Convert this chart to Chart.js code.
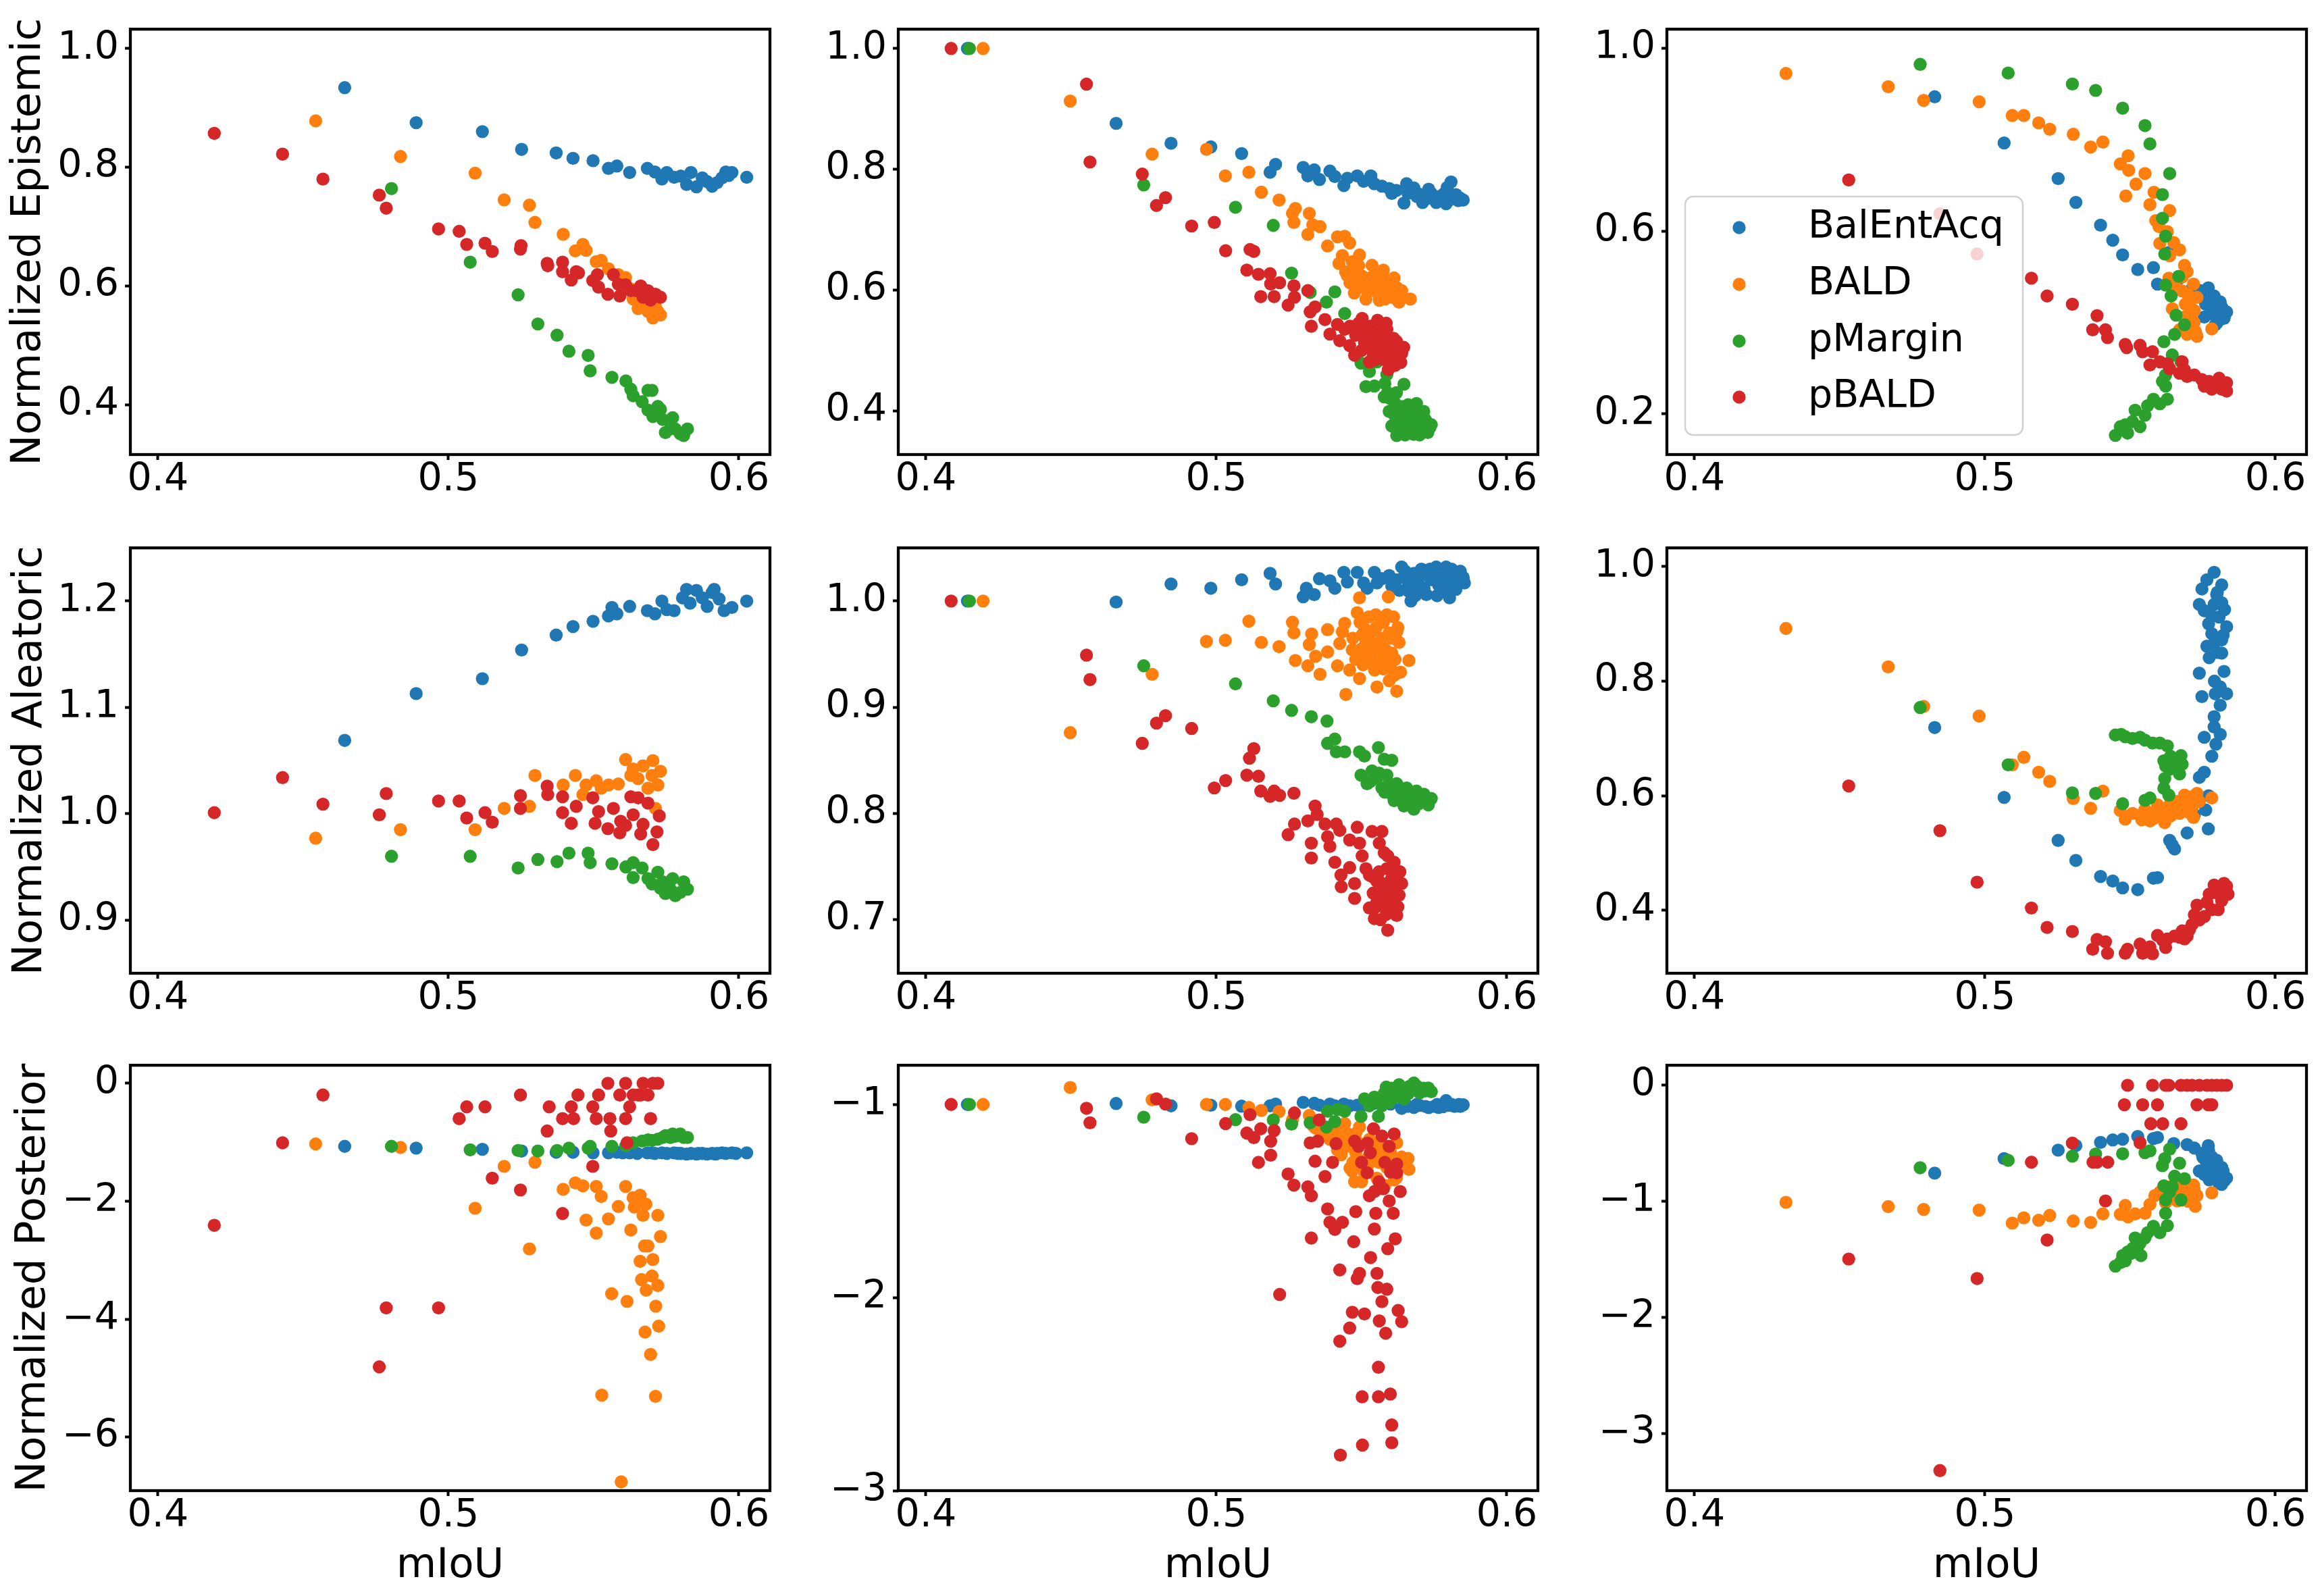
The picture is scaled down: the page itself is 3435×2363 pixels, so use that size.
<!DOCTYPE html>
<html>
<head>
<meta charset="utf-8">
<script src="https://cdn.jsdelivr.net/npm/chart.js@4.4.0/dist/chart.umd.min.js"></script>
<style>
html, body { margin: 0; padding: 0; background: #fff; }
#wrap { position: relative; width: 3435px; height: 2363px; background: #fff; overflow: hidden; }
#wrap canvas { position: absolute; }
</style>
</head>
<body>
<div id="wrap"></div>
<script>
// Methods and colours (matplotlib tab10)
const methodNames = ['BalEntAcq', 'BALD', 'pMargin', 'pBALD'];
const methodColors = ['#1f77b4', '#ff7f0e', '#2ca02c', '#d62728'];

// Shared x axis (mIoU)
const xTicks = [0.4, 0.5, 0.6];
const xTickLabels = ['0.4', '0.5', '0.6'];

// Row titles
const rowTitles = ['Normalized Epistemic', 'Normalized Aleatoric', 'Normalized Posterior'];

// Y ticks per panel
const yTicksEpi1 = [0.4, 0.6, 0.8, 1.0], yLabelsEpi1 = ['0.4', '0.6', '0.8', '1.0'];
const yTicksEpi2 = [0.4, 0.6, 0.8, 1.0], yLabelsEpi2 = ['0.4', '0.6', '0.8', '1.0'];
const yTicksEpi3 = [0.2, 0.6, 1.0], yLabelsEpi3 = ['0.2', '0.6', '1.0'];
const yTicksAle1 = [0.9, 1.0, 1.1, 1.2], yLabelsAle1 = ['0.9', '1.0', '1.1', '1.2'];
const yTicksAle2 = [0.7, 0.8, 0.9, 1.0], yLabelsAle2 = ['0.7', '0.8', '0.9', '1.0'];
const yTicksAle3 = [0.4, 0.6, 0.8, 1.0], yLabelsAle3 = ['0.4', '0.6', '0.8', '1.0'];
const yTicksPost1 = [-6, -4, -2, 0], yLabelsPost1 = ['\u22126', '\u22124', '\u22122', '0'];
const yTicksPost2 = [-3, -2, -1], yLabelsPost2 = ['\u22123', '\u22122', '\u22121'];
const yTicksPost3 = [-3, -2, -1, 0], yLabelsPost3 = ['\u22123', '\u22122', '\u22121', '0'];

// ---- Epistemic, column 1 ----
const epi1Bal = [[0.4643,0.934],[0.4889,0.875],[0.5117,0.860],[0.5252,0.830],[0.5371,0.824],[0.5429,0.815],[0.5498,0.811],[0.5551,0.798],[0.5580,0.802],[0.5624,0.791],[0.5685,0.798],[0.5711,0.792],[0.5735,0.780],[0.5752,0.791],[0.5777,0.783],[0.5800,0.785],[0.5820,0.771],[0.5835,0.791],[0.5854,0.767],[0.5874,0.782],[0.5890,0.776],[0.5908,0.768],[0.5925,0.774],[0.5942,0.782],[0.5955,0.792],[0.5976,0.791],[0.5965,0.786],[0.6027,0.783]];
const epi1Bald = [[0.4543,0.878],[0.4835,0.818],[0.5092,0.790],[0.5192,0.745],[0.5279,0.736],[0.5298,0.707],[0.5395,0.687],[0.5437,0.659],[0.5463,0.670],[0.5474,0.660],[0.5509,0.641],[0.5526,0.643],[0.5551,0.629],[0.5585,0.619],[0.5610,0.614],[0.5628,0.595],[0.5636,0.578],[0.5653,0.562],[0.5670,0.567],[0.5687,0.557],[0.5704,0.546],[0.5721,0.557],[0.5730,0.551],[0.5701,0.581],[0.5713,0.565]];
const epi1Pm = [[0.4804,0.764],[0.5075,0.640],[0.5240,0.585],[0.5308,0.536],[0.5374,0.517],[0.5415,0.490],[0.5481,0.483],[0.5488,0.457],[0.5563,0.446],[0.5611,0.440],[0.5628,0.426],[0.5636,0.415],[0.5667,0.405],[0.5687,0.424],[0.5701,0.424],[0.5687,0.391],[0.5704,0.380],[0.5721,0.397],[0.5738,0.375],[0.5747,0.353],[0.5764,0.359],[0.5772,0.378],[0.5781,0.359],[0.5798,0.351],[0.5810,0.348],[0.5823,0.359],[0.5730,0.392]];
const epi1Pb = [[0.4194,0.857],[0.4429,0.822],[0.4568,0.780],[0.4762,0.753],[0.4786,0.731],[0.4966,0.696],[0.5037,0.692],[0.5063,0.670],[0.5126,0.672],[0.5151,0.658],[0.5248,0.662],[0.5250,0.668],[0.5340,0.638],[0.5342,0.634],[0.5393,0.640],[0.5393,0.624],[0.5423,0.610],[0.5440,0.624],[0.5448,0.622],[0.5497,0.609],[0.5517,0.598],[0.5513,0.619],[0.5549,0.586],[0.5568,0.619],[0.5585,0.603],[0.5590,0.583],[0.5610,0.602],[0.5628,0.592],[0.5645,0.592],[0.5662,0.600],[0.5670,0.581],[0.5696,0.576],[0.5713,0.586],[0.5730,0.581],[0.5687,0.592]];

// ---- Epistemic, column 2 ----
const epi2Bal = [[0.4143,1.0],[0.4655,0.876],[0.4844,0.843],[0.4981,0.837],[0.5087,0.826],[0.5185,0.795],[0.5204,0.808],[0.5299,0.803],[0.5315,0.789],[0.5337,0.799],[0.5355,0.783],[0.5391,0.797],[0.5408,0.788],[0.5439,0.773],[0.5451,0.785],[0.5485,0.789],[0.5507,0.780],[0.5532,0.789],[0.5544,0.776],[0.5570,0.772],[0.5595,0.768],[0.5604,0.760],[0.5646,0.744],[0.5655,0.776],[0.5680,0.769],[0.5697,0.759],[0.5723,0.751],[0.5731,0.767],[0.5757,0.745],[0.5774,0.756],[0.5791,0.743],[0.5799,0.748],[0.5808,0.779],[0.5816,0.753],[0.5833,0.748],[0.5850,0.749],[0.5660,0.760],[0.5690,0.755],[0.5710,0.745],[0.5740,0.760],[0.5765,0.752],[0.5785,0.760],[0.5795,0.770],[0.5825,0.758],[0.5840,0.752],[0.5620,0.765]];
const epi2Bald = [[0.4197,1.0],[0.4497,0.913],[0.4779,0.825],[0.4966,0.833],[0.5031,0.789],[0.5112,0.795],[0.5155,0.762],[0.5216,0.749],[0.5262,0.727],[0.5267,0.712],[0.5272,0.735],[0.5315,0.692],[0.5320,0.727],[0.5332,0.708],[0.5357,0.705],[0.5383,0.673],[0.5417,0.688],[0.5442,0.689],[0.5459,0.678],[0.5422,0.644],[0.5434,0.657],[0.5451,0.624],[0.5468,0.647],[0.5476,0.609],[0.5493,0.658],[0.5502,0.623],[0.5519,0.599],[0.5536,0.641],[0.5544,0.609],[0.5561,0.583],[0.5575,0.633],[0.5587,0.599],[0.5604,0.588],[0.5621,0.604],[0.5629,0.580],[0.5638,0.599],[0.5668,0.585],[0.5612,0.620],[0.5570,0.615],[0.5480,0.630],[0.5530,0.620],[0.5580,0.600],[0.5445,0.630],[0.5460,0.612],[0.5475,0.595],[0.5490,0.640],[0.5505,0.605],[0.5515,0.585],[0.5530,0.600],[0.5545,0.625],[0.5555,0.595],[0.5565,0.605],[0.5580,0.585],[0.5595,0.615],[0.5610,0.590],[0.5625,0.582],[0.5640,0.590]];
const epi2Pm = [[0.4150,1.0],[0.4750,0.774],[0.5066,0.737],[0.5196,0.707],[0.5259,0.628],[0.5323,0.596],[0.5379,0.580],[0.5408,0.597],[0.5442,0.561],[0.5498,0.479],[0.5515,0.440],[0.5527,0.465],[0.5544,0.441],[0.5553,0.481],[0.5578,0.423],[0.5587,0.460],[0.5595,0.399],[0.5604,0.375],[0.5612,0.415],[0.5621,0.359],[0.5629,0.385],[0.5638,0.407],[0.5646,0.444],[0.5655,0.375],[0.5663,0.396],[0.5680,0.361],[0.5689,0.412],[0.5697,0.380],[0.5714,0.399],[0.5728,0.364],[0.5740,0.377],[0.5706,0.369],[0.5672,0.385],[0.5620,0.430],[0.5650,0.395],[0.5580,0.445],[0.5590,0.430],[0.5600,0.420],[0.5610,0.395],[0.5615,0.380],[0.5630,0.370],[0.5640,0.390],[0.5650,0.360],[0.5660,0.380],[0.5670,0.370],[0.5690,0.395],[0.5700,0.360],[0.5720,0.385],[0.5735,0.372],[0.5660,0.410],[0.5625,0.405]];
const epi2Pb = [[0.4087,1.0],[0.4553,0.941],[0.4565,0.812],[0.4745,0.792],[0.4825,0.753],[0.4794,0.740],[0.4915,0.706],[0.4993,0.712],[0.5032,0.665],[0.5116,0.667],[0.5129,0.664],[0.5105,0.633],[0.5145,0.626],[0.5185,0.627],[0.5187,0.610],[0.5218,0.612],[0.5153,0.589],[0.5199,0.589],[0.5247,0.575],[0.5267,0.607],[0.5269,0.588],[0.5315,0.599],[0.5323,0.564],[0.5327,0.540],[0.5340,0.572],[0.5374,0.551],[0.5391,0.527],[0.5417,0.543],[0.5425,0.516],[0.5442,0.535],[0.5459,0.508],[0.5476,0.492],[0.5485,0.529],[0.5502,0.553],[0.5510,0.513],[0.5527,0.481],[0.5536,0.503],[0.5553,0.529],[0.5561,0.492],[0.5570,0.513],[0.5587,0.535],[0.5592,0.468],[0.5604,0.476],[0.5612,0.503],[0.5626,0.487],[0.5638,0.495],[0.5578,0.497],[0.5544,0.484],[0.5520,0.520],[0.5545,0.505],[0.5580,0.520],[0.5600,0.500],[0.5620,0.515],[0.5565,0.530],[0.5530,0.540],[0.5460,0.540],[0.5480,0.525],[0.5490,0.545],[0.5500,0.500],[0.5510,0.530],[0.5525,0.510],[0.5540,0.495],[0.5550,0.520],[0.5560,0.505],[0.5575,0.485],[0.5590,0.510],[0.5600,0.490],[0.5610,0.520],[0.5625,0.500],[0.5635,0.480],[0.5645,0.505],[0.5615,0.475],[0.5585,0.545],[0.5555,0.550],[0.5505,0.545]];

// ---- Epistemic, column 3 ----
const epi3Bal = [[0.4827,0.894],[0.5066,0.793],[0.5252,0.715],[0.5313,0.663],[0.5398,0.613],[0.5440,0.580],[0.5474,0.548],[0.5526,0.516],[0.5580,0.520],[0.5594,0.484],[0.5633,0.553],[0.5670,0.497],[0.5704,0.469],[0.5721,0.476],[0.5747,0.455],[0.5769,0.476],[0.5789,0.458],[0.5772,0.441],[0.5798,0.426],[0.5806,0.412],[0.5815,0.434],[0.5823,0.409],[0.5832,0.423],[0.5793,0.395],[0.5755,0.412],[0.5781,0.419],[0.5823,0.426],[0.5760,0.440],[0.5790,0.430],[0.5810,0.445],[0.5825,0.415],[0.5800,0.400],[0.5740,0.470]];
const epi3Bald = [[0.4315,0.945],[0.4667,0.916],[0.4789,0.886],[0.4980,0.883],[0.5094,0.853],[0.5134,0.853],[0.5185,0.837],[0.5223,0.823],[0.5304,0.812],[0.5364,0.784],[0.5406,0.795],[0.5466,0.747],[0.5493,0.765],[0.5495,0.733],[0.5551,0.726],[0.5520,0.703],[0.5485,0.677],[0.5568,0.658],[0.5582,0.685],[0.5636,0.645],[0.5588,0.623],[0.5599,0.610],[0.5628,0.599],[0.5602,0.573],[0.5650,0.575],[0.5670,0.559],[0.5636,0.546],[0.5687,0.525],[0.5696,0.511],[0.5653,0.483],[0.5679,0.469],[0.5718,0.484],[0.5730,0.455],[0.5704,0.441],[0.5721,0.426],[0.5687,0.412],[0.5645,0.430],[0.5713,0.391],[0.5730,0.370],[0.5781,0.386],[0.5670,0.384],[0.5696,0.374],[0.5633,0.497],[0.5700,0.460],[0.5710,0.420],[0.5720,0.400],[0.5690,0.440],[0.5680,0.500],[0.5725,0.380]];
const epi3Pm = [[0.4777,0.965],[0.5080,0.946],[0.5301,0.922],[0.5381,0.908],[0.5474,0.869],[0.5551,0.831],[0.5568,0.791],[0.5636,0.726],[0.5611,0.680],[0.5611,0.628],[0.5622,0.589],[0.5619,0.550],[0.5667,0.501],[0.5622,0.482],[0.5641,0.458],[0.5658,0.416],[0.5687,0.395],[0.5653,0.374],[0.5616,0.358],[0.5645,0.329],[0.5675,0.314],[0.5622,0.285],[0.5611,0.271],[0.5622,0.261],[0.5628,0.232],[0.5602,0.222],[0.5580,0.232],[0.5560,0.218],[0.5551,0.197],[0.5517,0.208],[0.5534,0.172],[0.5508,0.183],[0.5483,0.176],[0.5466,0.172],[0.5491,0.158],[0.5449,0.153],[0.5474,0.165]];
const epi3Pb = [[0.4531,0.712],[0.4845,0.638],[0.4973,0.550],[0.5160,0.497],[0.5214,0.458],[0.5301,0.440],[0.5386,0.415],[0.5371,0.384],[0.5415,0.384],[0.5422,0.367],[0.5483,0.352],[0.5488,0.345],[0.5534,0.350],[0.5543,0.336],[0.5577,0.336],[0.5568,0.307],[0.5602,0.314],[0.5628,0.310],[0.5636,0.299],[0.5670,0.289],[0.5687,0.296],[0.5696,0.282],[0.5721,0.285],[0.5747,0.275],[0.5755,0.261],[0.5772,0.271],[0.5789,0.264],[0.5806,0.278],[0.5815,0.254],[0.5832,0.268],[0.5832,0.250],[0.5781,0.254],[0.5679,0.314]];

// ---- Aleatoric, column 1 ----
const ale1Bal = [[0.4643,1.069],[0.4889,1.113],[0.5117,1.127],[0.5252,1.154],[0.5371,1.168],[0.5429,1.176],[0.5498,1.181],[0.5551,1.186],[0.5563,1.194],[0.5580,1.188],[0.5624,1.195],[0.5685,1.191],[0.5711,1.188],[0.5735,1.200],[0.5752,1.192],[0.5777,1.191],[0.5806,1.203],[0.5820,1.211],[0.5832,1.198],[0.5854,1.210],[0.5874,1.203],[0.5891,1.195],[0.5908,1.208],[0.5915,1.211],[0.5932,1.202],[0.5949,1.191],[0.5976,1.194],[0.6027,1.200]];
const ale1Bald = [[0.4543,0.977],[0.4835,0.985],[0.5092,0.985],[0.5192,1.005],[0.5279,1.007],[0.5298,1.036],[0.5395,1.027],[0.5437,1.036],[0.5463,1.018],[0.5474,1.027],[0.5509,1.031],[0.5526,1.024],[0.5551,1.027],[0.5585,1.028],[0.5610,1.051],[0.5628,1.036],[0.5636,1.042],[0.5653,1.033],[0.5670,1.045],[0.5687,1.024],[0.5704,1.050],[0.5721,1.027],[0.5730,1.040],[0.5701,1.036],[0.5713,1.005]];
const ale1Pm = [[0.4804,0.960],[0.5075,0.960],[0.5240,0.949],[0.5308,0.957],[0.5374,0.955],[0.5415,0.963],[0.5481,0.963],[0.5488,0.954],[0.5563,0.953],[0.5611,0.950],[0.5636,0.954],[0.5636,0.940],[0.5667,0.949],[0.5687,0.939],[0.5701,0.934],[0.5721,0.945],[0.5738,0.936],[0.5747,0.925],[0.5764,0.929],[0.5772,0.939],[0.5781,0.923],[0.5798,0.926],[0.5810,0.936],[0.5823,0.929],[0.5730,0.930]];
const ale1Pb = [[0.4194,1.001],[0.4429,1.034],[0.4568,1.009],[0.4762,0.999],[0.4786,1.019],[0.4966,1.012],[0.5037,1.012],[0.5063,0.996],[0.5126,1.001],[0.5151,0.992],[0.5248,1.017],[0.5248,1.005],[0.5340,1.026],[0.5342,1.018],[0.5393,1.016],[0.5393,1.001],[0.5423,0.991],[0.5440,1.007],[0.5497,1.015],[0.5505,0.991],[0.5517,1.002],[0.5549,0.986],[0.5568,1.005],[0.5590,0.982],[0.5593,0.993],[0.5610,0.989],[0.5628,1.016],[0.5636,0.999],[0.5653,1.015],[0.5662,0.981],[0.5670,0.990],[0.5687,1.010],[0.5704,0.971],[0.5718,0.983],[0.5726,0.998]];

// ---- Aleatoric, column 2 ----
const ale2Bal = [[0.4143,1.0],[0.4655,0.999],[0.4844,1.016],[0.4981,1.012],[0.5087,1.020],[0.5185,1.026],[0.5204,1.016],[0.5299,1.004],[0.5310,1.012],[0.5337,1.006],[0.5355,1.021],[0.5391,1.019],[0.5408,1.012],[0.5439,1.027],[0.5451,1.018],[0.5485,1.027],[0.5507,1.017],[0.5519,1.012],[0.5544,1.027],[0.5553,1.017],[0.5570,1.021],[0.5595,1.024],[0.5604,1.014],[0.5638,1.032],[0.5646,1.023],[0.5663,1.009],[0.5680,1.026],[0.5697,1.015],[0.5706,1.030],[0.5723,1.006],[0.5731,1.023],[0.5757,1.032],[0.5765,1.015],[0.5774,1.009],[0.5791,1.032],[0.5799,1.018],[0.5803,1.003],[0.5816,1.024],[0.5830,1.027],[0.5842,1.020],[0.5854,1.017],[0.5825,1.011],[0.5620,1.020],[0.5630,1.010],[0.5650,1.028],[0.5660,1.018],[0.5670,1.000],[0.5690,1.020],[0.5710,1.025],[0.5715,1.012],[0.5740,1.020],[0.5750,1.028],[0.5760,1.005],[0.5780,1.022],[0.5785,1.012],[0.5810,1.030],[0.5820,1.015],[0.5840,1.028],[0.5850,1.022],[0.5795,1.026],[0.5735,1.030],[0.5685,1.005]];
const ale2Bald = [[0.4197,1.0],[0.4497,0.876],[0.4779,0.931],[0.4966,0.962],[0.5031,0.963],[0.5112,0.981],[0.5155,0.961],[0.5216,0.957],[0.5262,0.980],[0.5267,0.970],[0.5272,0.944],[0.5315,0.939],[0.5320,0.959],[0.5328,0.969],[0.5342,0.948],[0.5357,0.931],[0.5383,0.973],[0.5383,0.952],[0.5417,0.939],[0.5425,0.960],[0.5434,0.971],[0.5442,0.979],[0.5446,0.912],[0.5459,0.935],[0.5468,0.954],[0.5485,0.989],[0.5493,0.927],[0.5493,1.003],[0.5502,0.968],[0.5510,0.948],[0.5527,0.962],[0.5536,0.942],[0.5549,0.987],[0.5553,0.919],[0.5561,0.957],[0.5575,0.936],[0.5587,0.987],[0.5592,1.004],[0.5595,0.970],[0.5604,0.951],[0.5612,0.930],[0.5621,0.915],[0.5629,0.961],[0.5634,0.933],[0.5663,0.944],[0.5621,0.971],[0.5510,0.974],[0.5500,0.955],[0.5520,0.945],[0.5540,0.960],[0.5560,0.950],[0.5580,0.955],[0.5600,0.940],[0.5530,0.970],[0.5570,0.965],[0.5470,0.965],[0.5480,0.945],[0.5495,0.980],[0.5505,0.940],[0.5515,0.960],[0.5525,0.985],[0.5535,0.955],[0.5545,0.935],[0.5550,0.975],[0.5565,0.945],[0.5575,0.980],[0.5585,0.950],[0.5595,0.925],[0.5605,0.965],[0.5615,0.945],[0.5625,0.975],[0.5610,0.985]];
const ale2Pm = [[0.4150,1.0],[0.4750,0.939],[0.5066,0.922],[0.5196,0.906],[0.5259,0.897],[0.5327,0.891],[0.5381,0.887],[0.5383,0.866],[0.5408,0.870],[0.5413,0.858],[0.5442,0.858],[0.5493,0.858],[0.5510,0.854],[0.5558,0.862],[0.5578,0.851],[0.5604,0.850],[0.5498,0.836],[0.5519,0.828],[0.5536,0.840],[0.5553,0.833],[0.5570,0.824],[0.5587,0.836],[0.5604,0.818],[0.5621,0.828],[0.5629,0.815],[0.5646,0.807],[0.5655,0.824],[0.5672,0.812],[0.5680,0.804],[0.5689,0.821],[0.5706,0.815],[0.5723,0.812],[0.5740,0.814],[0.5697,0.809],[0.5612,0.812],[0.5530,0.830],[0.5560,0.838],[0.5580,0.820],[0.5595,0.828],[0.5615,0.820],[0.5635,0.822],[0.5650,0.815],[0.5665,0.818],[0.5690,0.810],[0.5715,0.818],[0.5730,0.808]];
const ale2Pb = [[0.4087,1.0],[0.4553,0.949],[0.4565,0.926],[0.4745,0.866],[0.4794,0.885],[0.4825,0.892],[0.4915,0.880],[0.4993,0.824],[0.5032,0.831],[0.5105,0.836],[0.5114,0.852],[0.5129,0.861],[0.5145,0.835],[0.5153,0.821],[0.5185,0.816],[0.5199,0.821],[0.5218,0.817],[0.5247,0.780],[0.5267,0.819],[0.5269,0.790],[0.5327,0.772],[0.5327,0.758],[0.5340,0.807],[0.5347,0.799],[0.5315,0.793],[0.5374,0.790],[0.5383,0.778],[0.5391,0.769],[0.5408,0.754],[0.5413,0.790],[0.5425,0.784],[0.5429,0.742],[0.5430,0.731],[0.5459,0.775],[0.5459,0.749],[0.5476,0.734],[0.5476,0.720],[0.5485,0.787],[0.5493,0.772],[0.5502,0.760],[0.5515,0.748],[0.5527,0.711],[0.5536,0.783],[0.5544,0.701],[0.5553,0.736],[0.5561,0.772],[0.5570,0.783],[0.5570,0.726],[0.5578,0.763],[0.5587,0.748],[0.5590,0.690],[0.5595,0.714],[0.5604,0.739],[0.5612,0.754],[0.5621,0.704],[0.5629,0.723],[0.5638,0.734],[0.5553,0.717],[0.5527,0.742],[0.5560,0.745],[0.5580,0.730],[0.5600,0.720],[0.5540,0.725],[0.5620,0.745],[0.5590,0.760],[0.5540,0.740],[0.5550,0.712],[0.5565,0.735],[0.5575,0.715],[0.5585,0.705],[0.5595,0.735],[0.5605,0.710],[0.5615,0.730],[0.5625,0.712],[0.5632,0.745],[0.5585,0.725],[0.5565,0.700]];

// ---- Aleatoric, column 3 ----
const ale3Bal = [[0.4827,0.719],[0.5066,0.597],[0.5252,0.522],[0.5313,0.487],[0.5398,0.459],[0.5440,0.451],[0.5474,0.439],[0.5526,0.436],[0.5580,0.456],[0.5594,0.457],[0.5636,0.522],[0.5653,0.507],[0.5645,0.514],[0.5696,0.535],[0.5721,0.567],[0.5670,0.582],[0.5738,0.632],[0.5755,0.641],[0.5769,0.542],[0.5781,0.669],[0.5755,0.702],[0.5789,0.720],[0.5789,0.738],[0.5810,0.707],[0.5793,0.778],[0.5810,0.758],[0.5832,0.778],[0.5747,0.773],[0.5738,0.814],[0.5823,0.817],[0.5772,0.841],[0.5815,0.849],[0.5789,0.866],[0.5815,0.872],[0.5781,0.883],[0.5806,0.912],[0.5832,0.895],[0.5755,0.923],[0.5789,0.934],[0.5815,0.937],[0.5747,0.961],[0.5764,0.977],[0.5789,0.990],[0.5815,0.968],[0.5798,0.951],[0.5781,0.914],[0.5764,0.861],[0.5738,0.934],[0.5770,0.600],[0.5760,0.575],[0.5790,0.800],[0.5800,0.850],[0.5820,0.880],[0.5800,0.955],[0.5825,0.925],[0.5770,0.900],[0.5810,0.790],[0.5795,0.690]];
const ale3Bald = [[0.4315,0.892],[0.4667,0.825],[0.4789,0.756],[0.4980,0.739],[0.5094,0.654],[0.5134,0.667],[0.5185,0.641],[0.5223,0.625],[0.5304,0.595],[0.5364,0.578],[0.5406,0.608],[0.5466,0.574],[0.5483,0.559],[0.5508,0.569],[0.5534,0.566],[0.5568,0.556],[0.5585,0.572],[0.5611,0.562],[0.5628,0.573],[0.5636,0.584],[0.5662,0.590],[0.5670,0.569],[0.5687,0.582],[0.5696,0.598],[0.5713,0.579],[0.5721,0.593],[0.5730,0.604],[0.5718,0.562],[0.5738,0.590],[0.5781,0.596],[0.5653,0.573],[0.5594,0.584],[0.5551,0.576],[0.5619,0.553],[0.5687,0.601],[0.5600,0.565],[0.5640,0.565],[0.5660,0.575],[0.5680,0.590],[0.5700,0.585],[0.5720,0.600],[0.5705,0.570],[0.5580,0.560],[0.5540,0.558]];
const ale3Pm = [[0.4777,0.754],[0.5080,0.654],[0.5301,0.605],[0.5381,0.604],[0.5474,0.586],[0.5551,0.592],[0.5568,0.596],[0.5449,0.706],[0.5469,0.707],[0.5483,0.703],[0.5508,0.700],[0.5534,0.702],[0.5551,0.697],[0.5577,0.692],[0.5602,0.692],[0.5628,0.687],[0.5616,0.661],[0.5639,0.669],[0.5653,0.661],[0.5675,0.670],[0.5679,0.655],[0.5636,0.646],[0.5670,0.638],[0.5619,0.630],[0.5616,0.613],[0.5633,0.601],[0.5622,0.652],[0.5662,0.652]];
const ale3Pb = [[0.4531,0.617],[0.4845,0.539],[0.4973,0.449],[0.5160,0.404],[0.5214,0.370],[0.5301,0.363],[0.5386,0.349],[0.5371,0.332],[0.5415,0.345],[0.5422,0.325],[0.5483,0.325],[0.5491,0.332],[0.5534,0.341],[0.5543,0.325],[0.5577,0.324],[0.5568,0.336],[0.5594,0.356],[0.5611,0.348],[0.5622,0.335],[0.5628,0.350],[0.5670,0.353],[0.5679,0.364],[0.5687,0.350],[0.5704,0.366],[0.5713,0.375],[0.5721,0.392],[0.5730,0.409],[0.5738,0.383],[0.5755,0.389],[0.5772,0.428],[0.5781,0.401],[0.5793,0.431],[0.5803,0.401],[0.5806,0.439],[0.5815,0.417],[0.5823,0.447],[0.5832,0.442],[0.5837,0.428],[0.5820,0.425],[0.5789,0.444],[0.5764,0.414],[0.5653,0.355],[0.5696,0.355]];

// ---- Posterior, column 1 ----
const post1Bal = [[0.4643,-1.07],[0.4889,-1.10],[0.5117,-1.12],[0.5252,-1.15],[0.5371,-1.17],[0.5429,-1.17],[0.5498,-1.18],[0.5551,-1.18],[0.5580,-1.17],[0.5624,-1.18],[0.5685,-1.18],[0.5711,-1.19],[0.5735,-1.18],[0.5752,-1.19],[0.5777,-1.18],[0.5800,-1.19],[0.5820,-1.20],[0.5835,-1.19],[0.5854,-1.20],[0.5874,-1.19],[0.5890,-1.20],[0.5908,-1.19],[0.5925,-1.19],[0.5942,-1.18],[0.5955,-1.19],[0.5976,-1.18],[0.6027,-1.18],[0.5600,-1.18],[0.5650,-1.19],[0.5700,-1.18],[0.5790,-1.19],[0.5860,-1.19],[0.5920,-1.20],[0.5990,-1.19]];
const post1Bald = [[0.4543,-1.03],[0.4835,-1.09],[0.5092,-2.12],[0.5192,-1.41],[0.5279,-2.81],[0.5298,-1.34],[0.5395,-1.80],[0.5437,-1.69],[0.5463,-1.74],[0.5474,-2.32],[0.5509,-1.75],[0.5509,-2.54],[0.5526,-1.92],[0.5528,-5.29],[0.5551,-2.30],[0.5562,-3.57],[0.5585,-2.09],[0.5595,-6.76],[0.5610,-1.75],[0.5615,-3.70],[0.5628,-2.49],[0.5636,-1.94],[0.5653,-2.03],[0.5660,-3.02],[0.5665,-3.33],[0.5670,-2.24],[0.5675,-2.76],[0.5677,-4.22],[0.5681,-3.51],[0.5687,-2.76],[0.5696,-4.60],[0.5701,-3.27],[0.5704,-2.99],[0.5713,-5.31],[0.5714,-3.78],[0.5721,-3.43],[0.5721,-2.24],[0.5724,-4.12],[0.5730,-2.60],[0.5640,-2.10],[0.5660,-1.90],[0.5680,-2.05]];
const post1Pm = [[0.4804,-1.07],[0.5075,-1.13],[0.5240,-1.14],[0.5308,-1.15],[0.5374,-1.14],[0.5415,-1.10],[0.5481,-1.10],[0.5488,-1.07],[0.5563,-1.07],[0.5611,-1.06],[0.5636,-1.01],[0.5667,-0.98],[0.5687,-0.96],[0.5701,-0.97],[0.5721,-0.95],[0.5738,-0.92],[0.5747,-0.89],[0.5764,-0.92],[0.5772,-0.86],[0.5781,-0.90],[0.5798,-0.86],[0.5810,-0.92],[0.5823,-0.92]];
const post1Pb = [[0.4194,-2.41],[0.4429,-1.01],[0.4568,-0.20],[0.4762,-4.81],[0.4786,-3.81],[0.4966,-3.81],[0.5037,-0.60],[0.5063,-0.40],[0.5126,-0.40],[0.5151,-1.61],[0.5248,-0.20],[0.5248,-1.81],[0.5340,-0.81],[0.5347,-0.40],[0.5393,-0.60],[0.5393,-2.21],[0.5423,-0.40],[0.5431,-0.60],[0.5446,-0.20],[0.5497,-0.40],[0.5497,-1.41],[0.5509,-0.60],[0.5517,-0.20],[0.5549,0],[0.5556,-0.60],[0.5559,-0.81],[0.5590,-0.20],[0.5610,0],[0.5610,-0.60],[0.5615,-1.01],[0.5624,-0.40],[0.5636,-0.20],[0.5653,-0.20],[0.5662,-0.20],[0.5670,0],[0.5687,-0.20],[0.5696,-0.60],[0.5704,0],[0.5721,0]];

// ---- Posterior, column 2 ----
const post2Bal = [[0.4143,-1.0],[0.4655,-0.995],[0.4844,-1.007],[0.4981,-1.004],[0.5087,-1.009],[0.5185,-1.007],[0.5204,-0.998],[0.5299,-0.989],[0.5337,-0.994],[0.5355,-1.004],[0.5391,-0.998],[0.5408,-1.007],[0.5439,-0.998],[0.5459,-1.007],[0.5485,-1.004],[0.5510,-1.002],[0.5540,-0.995],[0.5570,-1.000],[0.5600,-0.998],[0.5638,-1.020],[0.5660,-1.010],[0.5680,-1.015],[0.5700,-1.005],[0.5731,-1.016],[0.5750,-1.010],[0.5765,-1.015],[0.5791,-0.980],[0.5800,-1.005],[0.5820,-1.010],[0.5835,-1.000],[0.5850,-1.002],[0.5650,-0.995],[0.5690,-1.000],[0.5720,-1.010],[0.5760,-1.000],[0.5780,-1.012],[0.5810,-1.000],[0.5840,-1.010]];
const post2Bald = [[0.4197,-1.0],[0.4497,-0.912],[0.4779,-0.976],[0.4966,-1.0],[0.5031,-1.0],[0.5112,-1.016],[0.5155,-1.031],[0.5216,-1.037],[0.5262,-1.080],[0.5320,-1.057],[0.5332,-1.108],[0.5357,-1.135],[0.5383,-1.126],[0.5417,-1.236],[0.5442,-1.099],[0.5459,-1.217],[0.5468,-1.345],[0.5476,-1.400],[0.5493,-1.117],[0.5502,-1.310],[0.5527,-1.181],[0.5553,-1.382],[0.5570,-1.217],[0.5587,-1.327],[0.5612,-1.391],[0.5638,-1.272],[0.5663,-1.336],[0.5621,-1.199],[0.5425,-1.172],[0.5510,-1.354],[0.5450,-1.150],[0.5480,-1.250],[0.5520,-1.280],[0.5560,-1.300],[0.5600,-1.250],[0.5470,-1.300],[0.5540,-1.200],[0.5340,-1.120],[0.5360,-1.150],[0.5390,-1.180],[0.5410,-1.140],[0.5430,-1.260],[0.5450,-1.200],[0.5460,-1.330],[0.5490,-1.200],[0.5500,-1.400],[0.5520,-1.350],[0.5530,-1.300],[0.5560,-1.250],[0.5580,-1.420],[0.5590,-1.280],[0.5620,-1.380],[0.5640,-1.300],[0.5660,-1.280],[0.5480,-1.150]];
const post2Pm = [[0.4150,-1.0],[0.4750,-1.066],[0.5066,-1.079],[0.5196,-1.080],[0.5259,-1.102],[0.5323,-1.095],[0.5379,-1.117],[0.5408,-1.089],[0.5383,-1.035],[0.5417,-1.026],[0.5442,-1.035],[0.5498,-1.062],[0.5510,-0.971],[0.5558,-1.062],[0.5544,-0.962],[0.5578,-0.943],[0.5604,-0.916],[0.5629,-0.898],[0.5646,-0.971],[0.5663,-0.907],[0.5680,-0.889],[0.5697,-0.925],[0.5714,-0.916],[0.5740,-0.934],[0.5595,-0.989],[0.5638,-0.934],[0.5570,-1.007],[0.5527,-1.007],[0.5590,-0.950],[0.5610,-0.930],[0.5620,-0.960],[0.5650,-0.920],[0.5660,-0.945],[0.5690,-0.905],[0.5700,-0.940],[0.5720,-0.930],[0.5730,-0.915],[0.5560,-0.975],[0.5585,-0.910]];
const post2Pb = [[0.4087,-1.0],[0.4553,-1.020],[0.4565,-1.095],[0.4794,-0.971],[0.4825,-0.998],[0.4915,-1.177],[0.5032,-1.099],[0.5105,-1.148],[0.5116,-1.053],[0.5129,-1.172],[0.5145,-1.300],[0.5153,-1.126],[0.5187,-1.190],[0.5187,-1.263],[0.5199,-1.135],[0.5218,-1.984],[0.5247,-1.360],[0.5267,-1.418],[0.5269,-1.044],[0.5315,-1.427],[0.5323,-1.199],[0.5327,-1.692],[0.5340,-1.294],[0.5349,-1.190],[0.5354,-1.080],[0.5327,-1.473],[0.5374,-1.373],[0.5383,-1.541],[0.5391,-1.610],[0.5400,-1.300],[0.5408,-1.647],[0.5412,-1.203],[0.5425,-1.857],[0.5425,-2.226],[0.5434,-1.610],[0.5459,-2.158],[0.5468,-2.076],[0.5473,-1.711],[0.5476,-1.190],[0.5480,-1.555],[0.5485,-1.902],[0.5490,-1.217],[0.5493,-1.875],[0.5502,-2.514],[0.5503,-2.764],[0.5510,-2.085],[0.5519,-1.354],[0.5527,-1.473],[0.5531,-1.793],[0.5541,-1.126],[0.5544,-1.645],[0.5549,-1.564],[0.5553,-1.875],[0.5556,-1.948],[0.5558,-2.361],[0.5558,-2.514],[0.5561,-2.121],[0.5570,-2.021],[0.5575,-1.437],[0.5583,-2.185],[0.5587,-1.957],[0.5590,-1.747],[0.5595,-1.500],[0.5599,-2.500],[0.5604,-2.660],[0.5604,-2.752],[0.5609,-1.564],[0.5612,-1.153],[0.5616,-1.696],[0.5621,-1.309],[0.5626,-2.067],[0.5633,-1.451],[0.5638,-2.125],[0.5427,-2.816],[0.5595,-1.217],[0.5570,-1.163],[0.5621,-1.354],[0.5500,-1.30],[0.5530,-1.25],[0.5560,-1.40],[0.5580,-1.30],[0.5600,-1.35],[0.5545,-1.45],[0.5520,-1.20]];

// ---- Posterior, column 3 ----
const post3Bal = [[0.4827,-0.757],[0.5066,-0.632],[0.5252,-0.559],[0.5313,-0.520],[0.5398,-0.492],[0.5440,-0.471],[0.5474,-0.465],[0.5526,-0.441],[0.5580,-0.459],[0.5594,-0.450],[0.5650,-0.502],[0.5696,-0.511],[0.5721,-0.541],[0.5747,-0.587],[0.5769,-0.520],[0.5781,-0.617],[0.5798,-0.647],[0.5738,-0.739],[0.5764,-0.693],[0.5789,-0.723],[0.5815,-0.708],[0.5823,-0.784],[0.5832,-0.799],[0.5806,-0.845],[0.5772,-0.815],[0.5755,-0.769],[0.5798,-0.784],[0.5815,-0.854],[0.5760,-0.650],[0.5790,-0.680],[0.5805,-0.760],[0.5820,-0.740],[0.5780,-0.780],[0.5825,-0.820],[0.5770,-0.560],[0.5750,-0.620]];
const post3Bald = [[0.4315,-1.009],[0.4667,-1.046],[0.4789,-1.070],[0.4980,-1.076],[0.5094,-1.188],[0.5134,-1.143],[0.5185,-1.164],[0.5223,-1.122],[0.5304,-1.170],[0.5364,-1.182],[0.5406,-1.109],[0.5466,-1.112],[0.5483,-1.036],[0.5493,-1.134],[0.5517,-1.109],[0.5551,-1.103],[0.5568,-1.027],[0.5585,-0.951],[0.5602,-0.921],[0.5622,-1.012],[0.5636,-0.875],[0.5653,-0.967],[0.5662,-0.997],[0.5679,-0.906],[0.5687,-0.951],[0.5704,-0.921],[0.5718,-0.860],[0.5724,-1.043],[0.5730,-0.951],[0.5781,-0.927],[0.5670,-0.860],[0.5645,-0.936],[0.5660,-0.930],[0.5690,-0.880],[0.5700,-1.000],[0.5710,-0.960],[0.5720,-0.900],[0.5680,-0.990],[0.5650,-0.900]];
const post3Pm = [[0.4777,-0.711],[0.5080,-0.647],[0.5301,-0.611],[0.5381,-0.593],[0.5474,-0.590],[0.5551,-0.581],[0.5568,-0.565],[0.5619,-0.632],[0.5636,-0.550],[0.5670,-0.672],[0.5611,-0.693],[0.5653,-0.784],[0.5687,-0.805],[0.5645,-0.875],[0.5616,-0.866],[0.5636,-0.921],[0.5675,-0.988],[0.5622,-0.988],[0.5622,-1.103],[0.5628,-1.210],[0.5602,-1.271],[0.5580,-1.216],[0.5560,-1.271],[0.5551,-1.316],[0.5517,-1.316],[0.5534,-1.362],[0.5508,-1.407],[0.5491,-1.438],[0.5474,-1.468],[0.5483,-1.514],[0.5466,-1.529],[0.5449,-1.559],[0.5500,-1.453],[0.5537,-1.468],[0.5526,-1.392]];
const post3Pb = [[0.4531,-1.498],[0.4845,-3.322],[0.4973,-1.666],[0.5160,-0.663],[0.5214,-1.334],[0.5301,-0.498],[0.5372,-0.663],[0.5386,-0.663],[0.5415,-0.997],[0.5423,-0.663],[0.5480,-0.167],[0.5491,0],[0.5534,-0.495],[0.5543,-0.167],[0.5571,-0.331],[0.5577,0],[0.5594,-0.167],[0.5612,-0.331],[0.5622,0],[0.5633,0],[0.5675,-0.331],[0.5675,0],[0.5696,0],[0.5713,0],[0.5730,-0.167],[0.5738,0],[0.5769,-0.167],[0.5764,0],[0.5781,0],[0.5798,0],[0.5815,0],[0.5832,0],[0.5781,-0.167]];

// ---------------- layout ----------------
const colLeft = [193, 1330, 2468];
const rowTop = [33, 801, 1567];
const plotW = 947, plotH = 640;
const YW = 193, TP = 33, RP = 12;
const XH = [85, 85, 156];
const X_MIN = 0.3905, X_MAX = 0.6107;

const panels = [
  { row: 0, col: 0, sets: [epi1Bal, epi1Bald, epi1Pm, epi1Pb], yMin: 0.316, yMax: 1.0325, ticks: yTicksEpi1, labels: yLabelsEpi1 },
  { row: 0, col: 1, sets: [epi2Bal, epi2Bald, epi2Pm, epi2Pb], yMin: 0.3275, yMax: 1.032, ticks: yTicksEpi2, labels: yLabelsEpi2 },
  { row: 0, col: 2, sets: [epi3Bal, epi3Bald, epi3Pm, epi3Pb], yMin: 0.111, yMax: 1.042, ticks: yTicksEpi3, labels: yLabelsEpi3, legend: true },
  { row: 1, col: 0, sets: [ale1Bal, ale1Bald, ale1Pm, ale1Pb], yMin: 0.85, yMax: 1.25, ticks: yTicksAle1, labels: yLabelsAle1 },
  { row: 1, col: 1, sets: [ale2Bal, ale2Bald, ale2Pm, ale2Pb], yMin: 0.6495, yMax: 1.05, ticks: yTicksAle2, labels: yLabelsAle2 },
  { row: 1, col: 2, sets: [ale3Bal, ale3Bald, ale3Pm, ale3Pb], yMin: 0.29, yMax: 1.0327, ticks: yTicksAle3, labels: yLabelsAle3 },
  { row: 2, col: 0, sets: [post1Bal, post1Bald, post1Pm, post1Pb], yMin: -6.909, yMax: 0.305, ticks: yTicksPost1, labels: yLabelsPost1 },
  { row: 2, col: 1, sets: [post2Bal, post2Bald, post2Pm, post2Pb], yMin: -3.0, yMax: -0.797, ticks: yTicksPost2, labels: yLabelsPost2 },
  { row: 2, col: 2, sets: [post3Bal, post3Bald, post3Pm, post3Pb], yMin: -3.495, yMax: 0.173, ticks: yTicksPost3, labels: yLabelsPost3 }
];

const titleBaseX = [59, 61, 66];
const FONT = '"DejaVu Sans", sans-serif';

// frame, axis titles and legend
const decorPlugin = {
  id: 'decor',
  afterDatasetsDraw(chart) {
    const p = chart.options.plugins.decor;
    const ctx = chart.ctx;
    const a = chart.chartArea;
    ctx.save();
    if (p.legend) {
      const bx = 220, by = 291, bw = 500, bh = 353, r = 12;
      ctx.beginPath();
      ctx.moveTo(bx + r, by);
      ctx.arcTo(bx + bw, by, bx + bw, by + bh, r);
      ctx.arcTo(bx + bw, by + bh, bx, by + bh, r);
      ctx.arcTo(bx, by + bh, bx, by, r);
      ctx.arcTo(bx, by, bx + bw, by, r);
      ctx.closePath();
      ctx.fillStyle = 'rgba(255,255,255,0.8)';
      ctx.fill();
      ctx.strokeStyle = '#d0d0d0';
      ctx.lineWidth = 2.5;
      ctx.stroke();
      const rowsY = [337, 421, 505, 588];
      ctx.font = '57px ' + FONT;
      ctx.textBaseline = 'middle';
      ctx.textAlign = 'left';
      methodNames.forEach((name, i) => {
        ctx.fillStyle = methodColors[i];
        ctx.beginPath();
        ctx.arc(300, rowsY[i], 9.7, 0, Math.PI * 2);
        ctx.fill();
        ctx.fillStyle = '#000';
        ctx.fillText(name, 402, rowsY[i]);
      });
    }
    ctx.strokeStyle = '#000';
    ctx.lineWidth = 4.3;
    ctx.strokeRect(a.left, a.top, a.right - a.left, a.bottom - a.top);
    ctx.fillStyle = '#000';
    ctx.font = '61px ' + FONT;
    if (p.yTitle) {
      ctx.save();
      ctx.translate(p.yTitleX, (a.top + a.bottom) / 2);
      ctx.rotate(-Math.PI / 2);
      ctx.textAlign = 'center';
      ctx.textBaseline = 'alphabetic';
      ctx.fillText(p.yTitle, 0, 0);
      ctx.restore();
    }
    if (p.xTitle) {
      ctx.textAlign = 'center';
      ctx.textBaseline = 'alphabetic';
      ctx.fillText(p.xTitle, (a.left + a.right) / 2, a.bottom + 128);
    }
    ctx.restore();
  }
};

const wrap = document.getElementById('wrap');

panels.forEach(pn => {
  const cv = document.createElement('canvas');
  const w = YW + plotW + RP;
  const h = TP + plotH + XH[pn.row];
  cv.width = w; cv.height = h;
  cv.style.width = w + 'px'; cv.style.height = h + 'px';
  cv.style.left = (colLeft[pn.col] - YW) + 'px';
  cv.style.top = (rowTop[pn.row] - TP) + 'px';
  wrap.appendChild(cv);

  const datasets = pn.sets.map((pts, i) => ({
    label: methodNames[i],
    data: pts.map(p => ({ x: p[0], y: p[1] })),
    backgroundColor: methodColors[i],
    borderWidth: 0,
    pointRadius: 9.7,
    pointHoverRadius: 9.7,
    order: 3 - i
  }));

  new Chart(cv, {
    type: 'scatter',
    data: { datasets },
    options: {
      responsive: false,
      animation: false,
      devicePixelRatio: 1,
      events: [],
      layout: { padding: { left: 0, top: TP, right: RP, bottom: 0 } },
      plugins: {
        legend: { display: false },
        tooltip: { enabled: false },
        decor: {
          legend: !!pn.legend,
          yTitle: pn.col === 0 ? rowTitles[pn.row] : null,
          yTitleX: titleBaseX[pn.row],
          xTitle: pn.row === 2 ? 'mIoU' : null
        }
      },
      scales: {
        x: {
          type: 'linear',
          min: X_MIN, max: X_MAX,
          afterBuildTicks: s => { s.ticks = xTicks.map(v => ({ value: v })); },
          afterFit: s => { s.height = XH[pn.row]; },
          grid: { drawOnChartArea: false, drawTicks: true, tickLength: 8, tickWidth: 4, tickColor: '#000' },
          border: { display: false },
          ticks: {
            autoSkip: false, maxRotation: 0, padding: -4, color: '#000',
            font: { family: 'DejaVu Sans', size: 57 },
            callback: (v, i) => xTickLabels[i]
          }
        },
        y: {
          type: 'linear',
          min: pn.yMin, max: pn.yMax,
          afterBuildTicks: s => { s.ticks = pn.ticks.map(v => ({ value: v })); },
          afterFit: s => { s.width = YW; },
          grid: { drawOnChartArea: false, drawTicks: true, tickLength: 8, tickWidth: 4, tickColor: '#000' },
          border: { display: false },
          ticks: {
            autoSkip: false, padding: 9, color: '#000',
            font: { family: 'DejaVu Sans', size: 57 },
            callback: (v, i) => pn.labels[i]
          }
        }
      }
    },
    plugins: [decorPlugin]
  });
});
</script>
</body>
</html>
